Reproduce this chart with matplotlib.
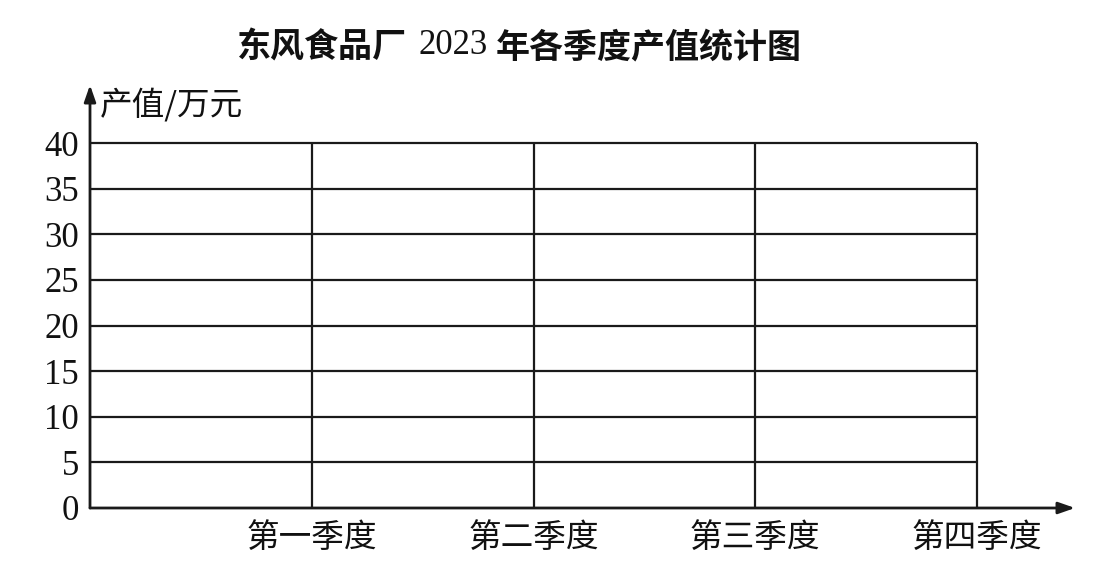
import matplotlib.pyplot as plt

# Chart content (blank worksheet grid)
quarters = ['第一季度', '第二季度', '第三季度', '第四季度']
quarter_pos = [1, 2, 3, 4]
y_ticks = [0, 5, 10, 15, 20, 25, 30, 35, 40]
title_parts = ['东风食品厂', '2023', '年各季度产值统计图']
y_label = '产值/万元'

plt.rcParams['font.family'] = ['Noto Sans CJK SC', 'DejaVu Sans']

W, H = 1119, 571
fig = plt.figure(figsize=(W / 100, H / 100), dpi=100)
# axes spans from origin (90, 508) to arrow tips (1075, 85) in pixels
ax = fig.add_axes([90 / W, (H - 508) / H, (1075 - 90) / W, (508 - 85) / H])
x_max = (1075 - 90) / ((977 - 90) / 4)
y_max = (508 - 85) / ((508 - 143) / 40)
ax.set_xlim(0, x_max)
ax.set_ylim(0, y_max)

line_c = '#1a1a1a'
ax.hlines(y_ticks[1:], 0, quarter_pos[-1], color=line_c, linewidth=1.6)
ax.vlines(quarter_pos, 0, y_ticks[-1], color=line_c, linewidth=1.6)

# axes with arrows
for spine in ax.spines.values():
    spine.set_visible(False)
ax.annotate('', xy=(x_max, 0), xytext=(0, 0),
            arrowprops=dict(arrowstyle='-|>,head_length=1.0,head_width=0.35', color=line_c, lw=2,
                            shrinkA=0, shrinkB=0), annotation_clip=False)
ax.annotate('', xy=(0, y_max), xytext=(0, 0),
            arrowprops=dict(arrowstyle='-|>,head_length=1.0,head_width=0.35', color=line_c, lw=2,
                            shrinkA=0, shrinkB=0), annotation_clip=False)

ax.set_yticks(y_ticks)
ax.set_yticklabels([str(v) for v in y_ticks], fontfamily=['Liberation Serif', 'DejaVu Serif'],
                   fontsize=25, color='#111111')
ax.set_xticks(quarter_pos)
ax.set_xticklabels(quarters, fontsize=23.5, color='#111111')
ax.tick_params(axis='y', length=0, pad=8)
ax.tick_params(axis='x', length=0, pad=10)

fig.text(100 / W, 1 - 105 / H, y_label, fontsize=23.5,
         ha='left', va='center', color='#111111')

# title: bold CJK around a regular serif year
ty = 1 - 47 / H
fig.text(407 / W, ty, title_parts[0], fontsize=24.5, fontweight='bold',
         ha='right', va='center', color='#111111')
fig.text(453 / W, ty + 1 / H, title_parts[1], fontsize=25, family='Liberation Serif',
         ha='center', va='center', color='#111111')
fig.text(496 / W, ty, title_parts[2], fontsize=24.5, fontweight='bold',
         ha='left', va='center', color='#111111')

fig.savefig('out.png', dpi=100, facecolor='white')
